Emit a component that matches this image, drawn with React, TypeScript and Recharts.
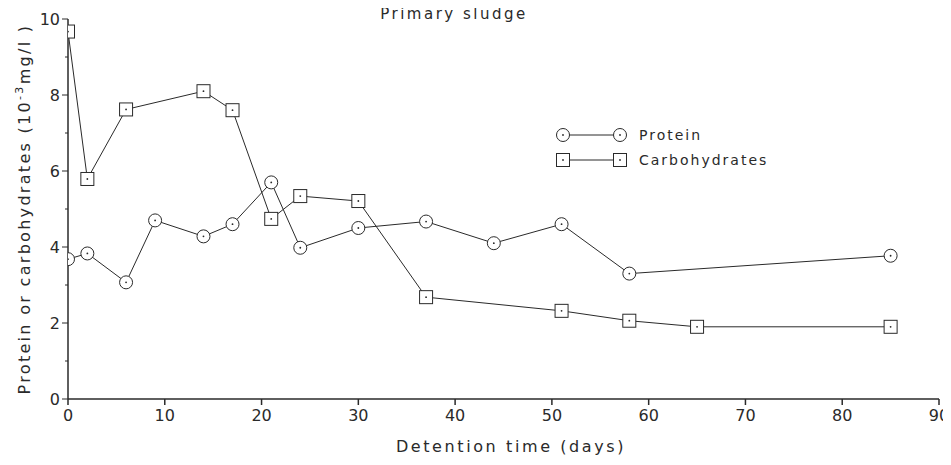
import { LineChart, Line, XAxis, YAxis } from "recharts";

const proteinDays = [0, 2, 6, 9, 14, 17, 21, 24, 30, 37, 44, 51, 58, 85];
const proteinValues = [3.68, 3.83, 3.07, 4.7, 4.28, 4.6, 5.7, 3.98, 4.5, 4.67, 4.1, 4.6, 3.3, 3.77];

const carbDays = [0, 2, 6, 14, 17, 21, 24, 30, 37, 51, 58, 65, 85];
const carbValues = [9.67, 5.79, 7.62, 8.1, 7.6, 4.74, 5.34, 5.21, 2.68, 2.32, 2.06, 1.9, 1.9];

const xTicks = [0, 10, 20, 30, 40, 50, 60, 70, 80, 90];
const yTicks = [0, 1, 2, 3, 4, 5, 6, 7, 8, 9, 10];

const proteinData = proteinDays.map((x, i) => ({ x, y: proteinValues[i] }));
const carbData = carbDays.map((x, i) => ({ x, y: carbValues[i] }));

const INK = "#2a2a2a";
const FONT = "'DejaVu Sans', sans-serif";
const AXIS_X = 60;

const CircleDot = (props: any) => {
  const { cx, cy, index } = props;
  if (cx == null || cy == null) return null;
  return (
    <g key={`c${index}`}>
      <circle cx={cx} cy={cy} r={6.5} fill="#fff" stroke={INK} strokeWidth={1} />
      <circle cx={cx} cy={cy} r={0.9} fill={INK} />
    </g>
  );
};

const SquareDot = (props: any) => {
  const { cx, cy, index } = props;
  if (cx == null || cy == null) return null;
  return (
    <g key={`s${index}`}>
      <rect x={cx - 6.5} y={cy - 6.5} width={13} height={13} fill="#fff" stroke={INK} strokeWidth={1} />
      <circle cx={cx} cy={cy} r={0.9} fill={INK} />
    </g>
  );
};

const YTick = (props: any) => {
  const { y, payload } = props;
  const v = payload.value;
  const major = v % 2 === 0;
  return (
    <g>
      <line x1={AXIS_X - (major ? 6 : 3)} x2={AXIS_X} y1={y} y2={y} stroke={INK} strokeWidth={1} />
      {major && (
        <text x={AXIS_X - 8} y={y + 6} textAnchor="end" fontSize={16} fill={INK} fontFamily={FONT}>
          {v}
        </text>
      )}
    </g>
  );
};

const YLabel = () => (
  <text
    transform="translate(22 201) rotate(-90)"
    textAnchor="middle"
    fontSize={16}
    fill={INK}
    fontFamily={FONT}
    letterSpacing={2.3}
  >
    Protein or carbohydrates (10
    <tspan fontSize={11} dy={-7}>-3</tspan>
    <tspan dy={7}>mg/l )</tspan>
  </text>
);

const XLabel = () => (
  <text
    x={503}
    y={444}
    textAnchor="middle"
    fontSize={16}
    fill={INK}
    fontFamily={FONT}
    letterSpacing={2.6}
  >
    Detention time (days)
  </text>
);

const legendRows = [
  { name: "Protein", shape: "circle" },
  { name: "Carbohydrates", shape: "square" },
];

const LegendBox = () => (
  <div
    style={{
      position: "absolute",
      left: 547,
      top: 114,
      zIndex: 2,
      fontFamily: FONT,
      fontSize: 14,
      color: INK,
      letterSpacing: 2,
    }}
  >
    {legendRows.map((r) => (
      <div key={r.name} style={{ display: "flex", alignItems: "center", height: 25 }}>
        <svg width={80} height={16} style={{ display: "block" }}>
          <line x1={8} x2={65} y1={8} y2={8} stroke={INK} strokeWidth={1} />
          {r.shape === "circle" ? (
            <>
              <circle cx={8} cy={8} r={6.5} fill="#fff" stroke={INK} />
              <circle cx={65} cy={8} r={6.5} fill="#fff" stroke={INK} />
            </>
          ) : (
            <>
              <rect x={1.5} y={1.5} width={13} height={13} fill="#fff" stroke={INK} />
              <rect x={58.5} y={1.5} width={13} height={13} fill="#fff" stroke={INK} />
            </>
          )}
          <circle cx={8} cy={8} r={0.9} fill={INK} />
          <circle cx={65} cy={8} r={0.9} fill={INK} />
        </svg>
        <span style={{ marginLeft: 4 }}>{r.name}</span>
      </div>
    ))}
  </div>
);

export default function App() {
  return (
    <div style={{ position: "relative", width: 943, height: 457 }}>
      <LineChart width={943} height={457} margin={{ top: 11, right: 12, bottom: 0, left: 0 }}>
        <XAxis
          type="number"
          dataKey="x"
          domain={[0, 90]}
          ticks={xTicks}
          allowDataOverflow
          height={66}
          stroke={INK}
          strokeWidth={1.5}
          tickSize={6}
          tickMargin={5}
          tick={{ fontSize: 16, fill: INK, fontFamily: FONT }}
          label={<XLabel />}
        />
        <YAxis
          type="number"
          dataKey="y"
          domain={[0, 10]}
          ticks={yTicks}
          interval={0}
          width={AXIS_X}
          stroke={INK}
          strokeWidth={1.5}
          tickLine={false}
          tick={<YTick />}
          label={<YLabel />}
        />
        <Line
          data={proteinData}
          dataKey="y"
          name="Protein"
          type="linear"
          stroke={INK}
          strokeWidth={1}
          dot={<CircleDot />}
          isAnimationActive={false}
        />
        <Line
          data={carbData}
          dataKey="y"
          name="Carbohydrates"
          type="linear"
          stroke={INK}
          strokeWidth={1}
          dot={<SquareDot />}
          isAnimationActive={false}
        />
      </LineChart>
      <div
        style={{
          position: "absolute",
          left: 296,
          width: 300,
          top: -3,
          zIndex: 2,
          textAlign: "center",
          fontFamily: FONT,
          fontSize: 15,
          color: INK,
          letterSpacing: 2.5,
        }}
      >
        Primary sludge
      </div>
      <LegendBox />
    </div>
  );
}
